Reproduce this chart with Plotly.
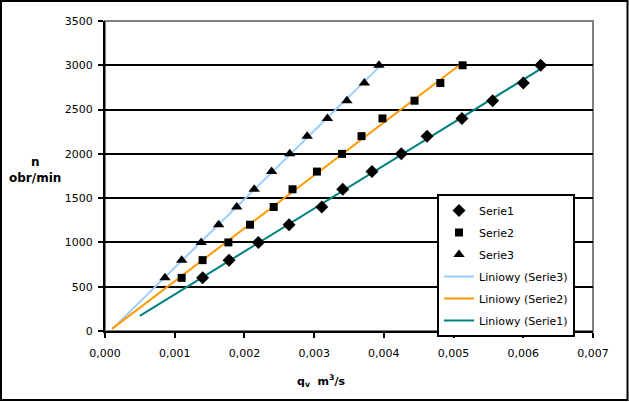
import numpy as np
import plotly.graph_objects as go

# ---- data ----
n_vals = [600, 800, 1000, 1200, 1400, 1600, 1800, 2000, 2200, 2400, 2600, 2800, 3000]
q_serie1 = [0.00140, 0.00178, 0.00220, 0.00264, 0.00311, 0.00341, 0.00383,
            0.00425, 0.00462, 0.00512, 0.00556, 0.00600, 0.00625]
q_serie2 = [0.00110, 0.00140, 0.00177, 0.00208, 0.00242, 0.00269, 0.00304,
            0.00340, 0.00368, 0.00398, 0.00444, 0.00481, 0.00513]
q_serie3 = [0.00086, 0.00110, 0.00138, 0.00163, 0.00189, 0.00214, 0.00239,
            0.00265, 0.00290, 0.00319, 0.00347, 0.00372, 0.00393]
series_names = ["Serie1", "Serie2", "Serie3"]
trend_start = {"Serie1": 0.0005, "Serie2": 0.0001, "Serie3": 0.00012}
x_ticks = [0, 0.001, 0.002, 0.003, 0.004, 0.005, 0.006, 0.007]
y_ticks = [0, 500, 1000, 1500, 2000, 2500, 3000, 3500]

W, H = 629, 402
L, R, T, B = 105, 36, 21, 71
PW, PH = W - L - R, H - T - B

def px(x):
    return (x - L) / PW

def py(y):
    return (H - B - y) / PH

FONT = "DejaVu Sans"
data = {"Serie1": q_serie1, "Serie2": q_serie2, "Serie3": q_serie3}
symbols = {"Serie1": "diamond", "Serie2": "square", "Serie3": "triangle-up"}
sizes = {"Serie1": 10, "Serie2": 8, "Serie3": 10}
line_colors = {"Serie1": "#008080", "Serie2": "#FF9900", "Serie3": "#99CCFF"}

fig = go.Figure()

# trendlines first (drawn beneath markers), legend order handled by legendrank
for i, name in enumerate(["Serie3", "Serie2", "Serie1"]):
    xs = np.array(data[name])
    slope, icpt = np.polyfit(xs, np.array(n_vals), 1)
    xl = np.array([trend_start[name], xs.max()])
    fig.add_trace(go.Scatter(
        x=xl, y=slope * xl + icpt, mode="lines",
        line=dict(color=line_colors[name], width=2),
        name=f"Liniowy ({name})", legendgroup=f"t{name}",
        legendrank=10 + i))

for i, name in enumerate(series_names):
    fig.add_trace(go.Scatter(
        x=data[name], y=n_vals, mode="markers",
        marker=dict(symbol=symbols[name], size=sizes[name], color="black"),
        name=name, legendgroup=f"m{name}", legendrank=i + 1))

axis_font = dict(family=FONT, size=11, color="black")

fig.update_layout(
    width=W, height=H,
    margin=dict(l=L, r=R, t=T, b=B, autoexpand=False),
    paper_bgcolor="white", plot_bgcolor="white",
    separators=",.",
    showlegend=True,
    legend=dict(
        x=px(437), y=py(194), xanchor="left", yanchor="top",
        bgcolor="white", bordercolor="black", borderwidth=2,
        font=dict(family=FONT, size=11, color="black"),
        tracegroupgap=3, traceorder="grouped",
    ),
    xaxis=dict(
        range=[0, 0.007], tickvals=x_ticks, tickformat=".3f",
        showgrid=False, zeroline=False,
        showline=True, linecolor="black", linewidth=2,
        ticks="outside", ticklen=5, tickwidth=2, tickcolor="black",
        tickfont=axis_font, ticklabelstandoff=6,
    ),
    yaxis=dict(
        range=[0, 3500], tickvals=y_ticks, tickformat="d",
        showgrid=True, gridcolor="black", gridwidth=2, zeroline=False,
        showline=True, linecolor="black", linewidth=2,
        ticks="outside", ticklen=5, tickwidth=2, tickcolor="black",
        tickfont=axis_font, ticklabelstandoff=3,
    ),
    shapes=[
        # gray plot frame (top / right)
        dict(type="rect", xref="paper", yref="paper", x0=0, y0=0, x1=1, y1=1,
             line=dict(color="#808080", width=2), layer="below"),
        # black outer chart border
        dict(type="rect", xref="paper", yref="paper",
             x0=px(1), x1=px(627.5), y0=py(1), y1=py(400),
             line=dict(color="black", width=2)),
    ],
    annotations=[
        dict(text="<b>n<br>obr/min</b>", xref="paper", yref="paper",
             x=px(35), y=py(170), xanchor="center", yanchor="middle",
             showarrow=False, align="center",
             font=dict(family=FONT, size=12, color="black")),
        dict(text="<b>q<sub>v</sub>  m<sup>3</sup>/s</b>", xref="paper", yref="paper",
             x=px(321), y=py(381), xanchor="center", yanchor="middle",
             showarrow=False,
             font=dict(family=FONT, size=11, color="black")),
    ],
)

fig.write_html("out.html")
